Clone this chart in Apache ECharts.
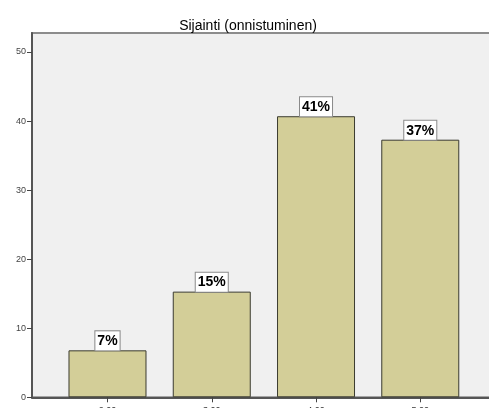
<!DOCTYPE html>
<html>
<head>
<meta charset="utf-8">
<style>
  html, body { margin: 0; padding: 0; background: #ffffff; }
  #chart { width: 489px; height: 408px; }
</style>
<script src="https://cdn.jsdelivr.net/npm/echarts@6/dist/echarts.min.js"></script>
</head>
<body>
<div id="chart"></div>
<script>
// Category codes on the x axis and the share (%) in each
const categories = [2, 3, 4, 5];
const percentages = [6.8, 15.3, 40.7, 37.3];
const yTicks = [0, 10, 20, 30, 40, 50];

const chart = echarts.init(document.getElementById('chart'), null, { renderer: 'canvas' });

const font = '"Liberation Sans", Arial, sans-serif';

chart.setOption({
  animation: false,
  backgroundColor: '#ffffff',
  title: {
    text: 'Sijainti (onnistuminen)',
    left: 243,
    textAlign: 'center',
    top: 14,
    textStyle: { fontFamily: font, fontSize: 14, fontWeight: 'normal', color: '#000' }
  },
  grid: {
    left: 32, top: 33, right: -10, bottom: 10.7,
    outerBoundsMode: 'none',
    containLabel: false,
    show: true,
    backgroundColor: '#f0f0f0',
    borderColor: '#8c8c8c',
    borderWidth: 2
  },
  xAxis: {
    type: 'value',
    min: 1.276,
    max: 5.755,
    splitLine: { show: false },
    axisLine: { show: true, onZero: false, lineStyle: { color: '#555', width: 2 } },
    axisTick: { show: true, customValues: categories, length: 5, lineStyle: { color: '#444', width: 1 } },
    axisLabel: {
      customValues: categories,
      formatter: v => v.toFixed(2),
      margin: 9,
      fontFamily: font, fontSize: 9, color: '#333'
    }
  },
  yAxis: {
    type: 'value',
    min: 0,
    max: 52.75,
    splitLine: { show: false },
    axisLine: { show: true, lineStyle: { color: '#555', width: 2 } },
    axisTick: { show: true, customValues: yTicks, length: 5, lineStyle: { color: '#444', width: 1 } },
    axisLabel: {
      customValues: yTicks,
      margin: 6,
      fontFamily: font, fontSize: 9, color: '#444'
    }
  },
  series: [{
    type: 'bar',
    data: categories.map((c, i) => [c, percentages[i]]),
    barWidth: 78,
    itemStyle: { color: '#d3ce98', borderColor: '#3b3b30', borderWidth: 1 },
    label: {
      show: true,
      position: 'top',
      distance: 0,
      formatter: p => Math.round(p.value[1]) + '%',
      fontFamily: font, fontSize: 14, fontWeight: 'bold', color: '#000',
      backgroundColor: '#ffffff',
      borderColor: '#8a8a8a', borderWidth: 1,
      padding: [3, 2, 2, 2]
    }
  }]
});
</script>
</body>
</html>
